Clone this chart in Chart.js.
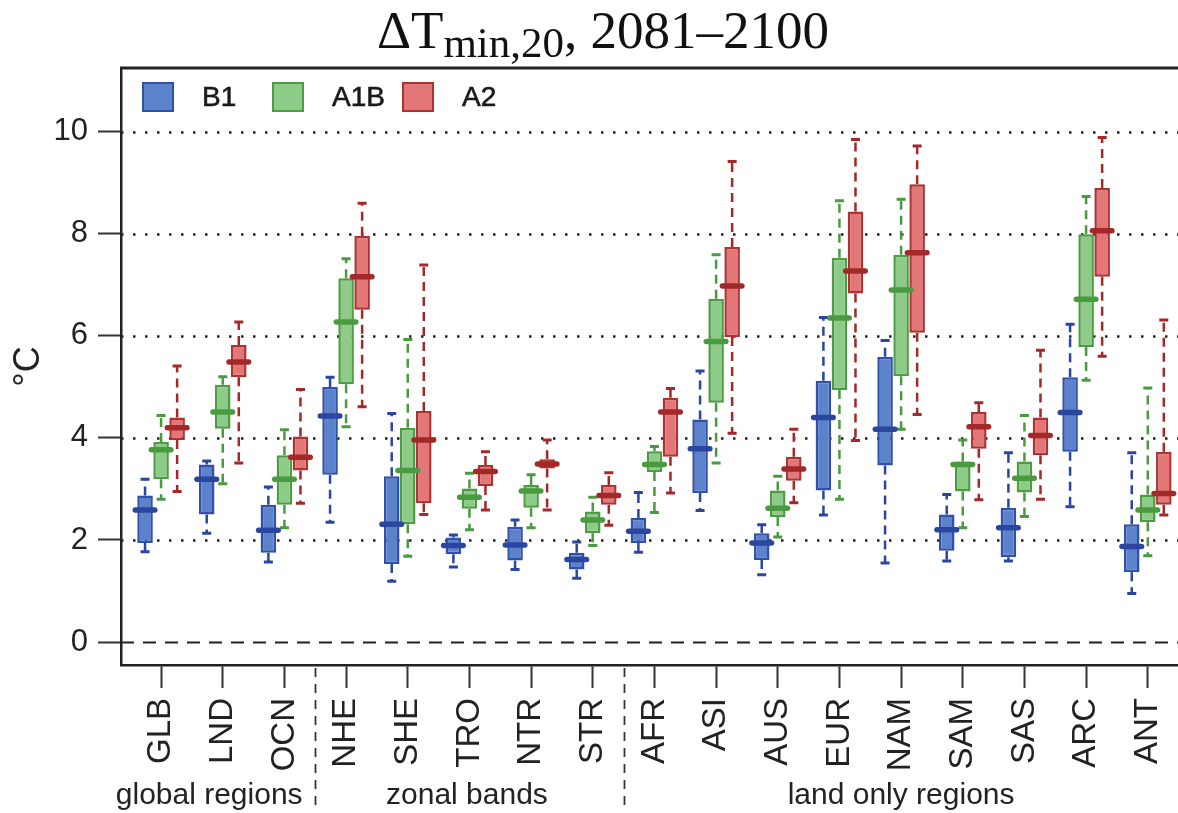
<!DOCTYPE html>
<html>
<head>
<meta charset="utf-8">
<script src="https://cdn.jsdelivr.net/npm/chart.js@4.4.0/dist/chart.umd.min.js"></script>
<style>
    html, body { margin: 0; padding: 0; background: #fff; }
</style>
</head>
<body>
<canvas id="myChart" width="1178" height="813"></canvas>
<script>
const ctx = document.getElementById('myChart');

// Regiones (eje x) y marcas del eje y
const regiones = ['GLB', 'LND', 'OCN', 'NHE', 'SHE', 'TRO', 'NTR', 'STR', 'AFR', 'ASI', 'AUS', 'EUR', 'NAM', 'SAM', 'SAS', 'ARC', 'ANT'];
const ticksY = [0, 2, 4, 6, 8, 10];
const grupos = ['global regions', 'zonal bands', 'land only regions'];
const separadores = [2.5, 7.5];

// B1
const b1Min = [1.77, 2.13, 1.57, 2.35, 1.19, 1.47, 1.42, 1.25, 1.76, 2.58, 1.32, 2.49, 1.55, 1.59, 1.59, 2.65, 0.95];
const b1Q1  = [1.94, 2.50, 1.75, 3.28, 1.53, 1.72, 1.60, 1.42, 1.94, 2.92, 1.61, 2.97, 3.46, 1.79, 1.66, 3.73, 1.37];
const b1Med = [2.59, 3.19, 2.19, 4.43, 2.31, 1.89, 1.90, 1.62, 2.17, 3.79, 1.94, 4.40, 4.17, 2.20, 2.24, 4.50, 1.87];
const b1Q3  = [2.87, 3.48, 2.69, 5.00, 3.25, 2.05, 2.26, 1.75, 2.43, 4.36, 2.13, 5.12, 5.59, 2.50, 2.63, 5.19, 2.31];
const b1Max = [3.19, 3.55, 3.04, 5.19, 4.48, 2.10, 2.39, 1.96, 2.93, 5.31, 2.30, 6.36, 5.91, 2.89, 3.71, 6.23, 3.71];

// A1B
const a1bMin = [2.80, 3.10, 2.24, 4.22, 1.68, 2.20, 2.24, 1.89, 2.54, 3.51, 2.06, 2.80, 4.17, 2.24, 2.46, 5.13, 1.69];
const a1bQ1  = [3.19, 4.18, 2.69, 5.05, 2.31, 2.61, 2.63, 2.13, 3.33, 4.69, 2.45, 4.94, 5.21, 2.95, 2.93, 5.78, 2.35];
const a1bMed = [3.77, 4.51, 3.19, 6.27, 3.36, 2.84, 2.96, 2.39, 3.48, 5.89, 2.62, 6.35, 6.90, 3.48, 3.21, 6.72, 2.59];
const a1bQ3  = [3.92, 5.04, 3.66, 7.13, 4.20, 3.01, 3.08, 2.56, 3.74, 6.73, 2.97, 7.53, 7.59, 3.54, 3.54, 7.99, 2.89];
const a1bMax = [4.44, 5.20, 4.16, 7.51, 5.93, 3.31, 3.28, 2.84, 3.83, 7.59, 3.25, 8.65, 8.68, 3.96, 4.44, 8.73, 4.98];

// A2
const a2Min = [2.95, 3.51, 2.72, 4.61, 2.50, 2.59, 2.59, 2.29, 2.92, 4.09, 2.73, 3.95, 4.46, 2.79, 2.80, 5.60, 2.49];
const a2Q1  = [3.96, 5.19, 3.36, 6.51, 2.72, 3.06, 3.40, 2.69, 3.63, 5.98, 3.16, 6.83, 6.06, 3.79, 3.66, 7.16, 2.69];
const a2Med = [4.20, 5.49, 3.62, 7.16, 3.96, 3.34, 3.49, 2.87, 4.51, 6.98, 3.39, 7.27, 7.63, 4.22, 4.05, 8.06, 2.91];
const a2Q3  = [4.40, 5.82, 4.03, 7.96, 4.53, 3.47, 3.58, 3.08, 4.79, 7.74, 3.63, 8.44, 8.97, 4.51, 4.40, 8.90, 3.73];
const a2Max = [5.41, 6.27, 4.95, 8.60, 7.39, 3.73, 3.96, 3.32, 4.97, 9.42, 4.17, 9.85, 9.72, 4.69, 5.72, 9.89, 6.31];

// Tabla de series armada con los arreglos de arriba
const series = [
    { label: 'B1',  min: b1Min,  q1: b1Q1,  med: b1Med,  q3: b1Q3,  max: b1Max,  fill: '#5b82cb', line: '#3050aa', dark: '#2b469f' },
    { label: 'A1B', min: a1bMin, q1: a1bQ1, med: a1bMed, q3: a1bQ3, max: a1bMax, fill: '#8fcb88', line: '#4c9c43', dark: '#4a9a40' },
    { label: 'A2',  min: a2Min,  q1: a2Q1,  med: a2Med,  q3: a2Q3,  max: a2Max,  fill: '#e37676', line: '#ad3333', dark: '#a32828' }
];

const FONT = '"Liberation Sans", Arial, sans-serif';

// Bigotes, medianas, rejilla, leyenda y textos extra
const cajasPlugin = {
    id: 'cajas',
    beforeDatasetsDraw(chart) {
        const c = chart.ctx;
        const area = chart.chartArea;
        const y = chart.scales.y;
        c.save();
        ticksY.forEach(v => {
            const py = Math.round(y.getPixelForValue(v)) + 0.5;
            c.beginPath();
            c.strokeStyle = '#222';
            if (v === 0) { c.setLineDash([13, 9]); c.lineWidth = 2; }
            else { c.setLineDash([2.5, 9.5]); c.lineWidth = 2.5; }
            c.moveTo(area.left, py);
            c.lineTo(area.right, py);
            c.stroke();
        });
        // bigotes
        series.forEach((s, d) => {
            const meta = chart.getDatasetMeta(d);
            meta.data.forEach((bar, i) => {
                const yMax = y.getPixelForValue(s.max[i]);
                const yQ3 = y.getPixelForValue(s.q3[i]);
                const yQ1 = y.getPixelForValue(s.q1[i]);
                const yMin = y.getPixelForValue(s.min[i]);
                c.strokeStyle = s.dark;
                c.lineWidth = 2.5;
                c.setLineDash([9, 6]);
                c.beginPath();
                c.moveTo(bar.x, yQ3); c.lineTo(bar.x, yMax);
                c.moveTo(bar.x, yQ1); c.lineTo(bar.x, yMin);
                c.stroke();
                c.setLineDash([]);
                c.lineWidth = 3;
                c.beginPath();
                c.moveTo(bar.x - 4.5, yMax); c.lineTo(bar.x + 4.5, yMax);
                c.moveTo(bar.x - 4.5, yMin); c.lineTo(bar.x + 4.5, yMin);
                c.stroke();
            });
        });
        c.restore();
    },
    afterDatasetsDraw(chart) {
        const c = chart.ctx;
        const y = chart.scales.y;
        c.save();
        series.forEach((s, d) => {
            const meta = chart.getDatasetMeta(d);
            meta.data.forEach((bar, i) => {
                const py = y.getPixelForValue(s.med[i]);
                c.strokeStyle = s.dark;
                c.lineWidth = 5.5;
                c.lineCap = 'round';
                c.beginPath();
                c.moveTo(bar.x - bar.width / 2 - 2, py);
                c.lineTo(bar.x + bar.width / 2 + 2, py);
                c.stroke();
            });
        });
        c.restore();
    },
    afterDraw(chart) {
        const c = chart.ctx;
        const area = chart.chartArea;
        const x = chart.scales.x;
        c.save();
        // marco superior
        c.strokeStyle = '#222';
        c.lineWidth = 3;
        c.beginPath();
        c.moveTo(area.left - 1, area.top);
        c.lineTo(chart.width, area.top);
        c.stroke();

        // leyenda
        c.font = '28px ' + FONT;
        c.textBaseline = 'middle';
        series.forEach((s, k) => {
            const bx = 143 + k * 130;
            c.fillStyle = s.fill;
            c.strokeStyle = s.line;
            c.lineWidth = 2;
            c.fillRect(bx, 83, 30, 28);
            c.strokeRect(bx, 83, 30, 28);
            c.fillStyle = '#1a1a1a';
            c.strokeStyle = '#1a1a1a';
            c.lineWidth = 0.6;
            c.fillText(s.label, bx + 59, 98);
            c.strokeText(s.label, bx + 59, 98);
        });

        // separadores de grupos
        c.strokeStyle = '#333';
        c.lineWidth = 1.8;
        c.setLineDash([9, 7]);
        separadores.forEach(v => {
            const px = Math.round(x.getPixelForValue(v)) + 0.5;
            c.beginPath();
            c.moveTo(px, area.bottom + 3);
            c.lineTo(px, 808);
            c.stroke();
        });
        c.setLineDash([]);

        // nombres de grupos
        c.font = '30px ' + FONT;
        c.fillStyle = '#222';
        c.textAlign = 'center';
        c.textBaseline = 'alphabetic';
        const centros = [0.78, 4.96, 12.0];
        grupos.forEach((g, k) => {
            c.fillText(g, x.getPixelForValue(centros[k]), 804);
        });

        // titulo
        const f1 = '53px "Liberation Serif", "DejaVu Serif", serif';
        const f2 = '43px "Liberation Serif", "DejaVu Serif", serif';
        const p1 = '\u0394T', p2 = 'min,20', p3 = ', 2081\u20132100';
        c.font = f1; const w1 = c.measureText(p1).width; const w3 = c.measureText(p3).width;
        c.font = f2; const w2 = c.measureText(p2).width;
        let tx = 603 - (w1 + w2 + w3) / 2;
        c.textAlign = 'left';
        c.fillStyle = '#111';
        c.font = f1; c.fillText(p1, tx, 48); tx += w1;
        c.font = f2; c.fillText(p2, tx, 57); tx += w2;
        c.font = f1; c.fillText(p3, tx, 48);
        c.restore();
    }
};

new Chart(ctx, {
    type: 'bar',
    data: {
        datasets: series.map(s => ({
            label: s.label,
            data: regiones.map((r, i) => ({ x: i, y: [s.q1[i], s.q3[i]] })),
            backgroundColor: s.fill,
            borderColor: s.line,
            borderWidth: 2.5,
            borderSkipped: false,
            categoryPercentage: 0.78,
            barPercentage: 0.97
        }))
    },
    options: {
        responsive: false,
        animation: false,
        layout: { padding: { top: 68, right: 0, left: 0, bottom: 0 } },
        plugins: {
            legend: { display: false },
            tooltip: { enabled: false }
        },
        scales: {
            x: {
                type: 'linear',
                offset: false,
                min: -0.65,
                max: 16.49,
                afterFit: (scale) => {
                    scale.height = 148;
                    scale.paddingLeft = 0;
                    scale.paddingRight = 0;
                },
                afterBuildTicks: (scale) => { scale.ticks = regiones.map((r, i) => ({ value: i })); },
                grid: { offset: false, drawOnChartArea: false, drawTicks: true, tickLength: 23, tickWidth: 2, tickColor: '#333' },
                border: { display: true, color: '#222', width: 2.5 },
                ticks: {
                    autoSkip: false,
                    minRotation: 90,
                    maxRotation: 90,
                    padding: 10,
                    color: '#222',
                    font: { family: FONT, size: 33 },
                    callback: (v) => regiones[v]
                }
            },
            y: {
                min: -0.45,
                max: 11.25,
                afterFit: (scale) => {
                    scale.width = 121;
                    scale.paddingTop = 0;
                    scale.paddingBottom = 0;
                },
                afterBuildTicks: (scale) => { scale.ticks = ticksY.map(v => ({ value: v })); },
                grid: { drawOnChartArea: false, drawTicks: true, tickLength: 23, tickWidth: 2, tickColor: '#333' },
                border: { display: true, color: '#222', width: 2.5 },
                ticks: {
                    padding: 10,
                    color: '#222',
                    font: { family: FONT, size: 31 }
                },
                title: {
                    display: true,
                    text: '\u00b0C',
                    color: '#222',
                    font: { family: FONT, size: 36 },
                    padding: { top: 7 }
                }
            }
        }
    },
    plugins: [cajasPlugin]
});
</script>
</body>
</html>
